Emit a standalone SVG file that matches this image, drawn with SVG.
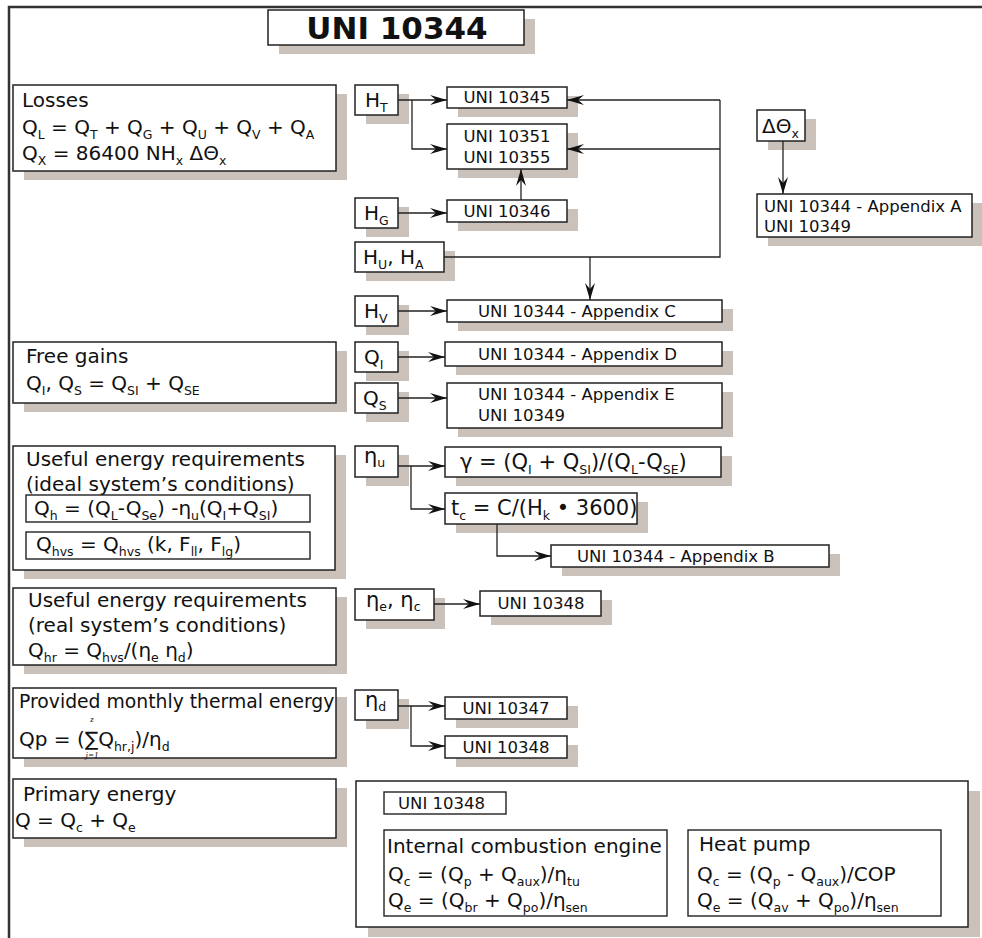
<svg xmlns="http://www.w3.org/2000/svg" width="982" height="938" viewBox="0 0 982 938">
<style>
text{font-family:"DejaVu Sans","Liberation Sans",sans-serif;fill:#111}
.h{font-size:20px}
.h21{font-size:21px}
.l{font-size:16.5px}
.s{font-size:12.5px}
.mid{text-anchor:middle}
.box{fill:#fff;stroke:#222;stroke-width:1.5}
.ib{fill:none;stroke:#222;stroke-width:1.4}
.sh{fill:#cbc1bb}
.c{fill:none;stroke:#222;stroke-width:1.3}
.frame{fill:none;stroke:#333;stroke-width:2.5}
.lim{font-family:"Liberation Serif",serif;font-style:italic;font-size:9px;text-anchor:middle}
</style>
<defs>
<marker id="ar" markerUnits="userSpaceOnUse" viewBox="-18 -6 19 12" refX="0" refY="0" markerWidth="19" markerHeight="12" orient="auto">
<path d="M0,0 L-17,-5 L-11,0 L-17,5 Z" fill="#111"/>
</marker>
</defs>
<rect width="982" height="938" fill="#fff"/>
<path class="frame" d="M9,938 V7 H982"/>

<g id="title">
<rect class="sh" x="279" y="19" width="256" height="35"/>
<rect class="box" x="268" y="10" width="256" height="35"/>
<text x="397" y="39" class="mid" font-size="31" font-weight="bold">UNI 10344</text>
</g>

<g id="losses">
<rect class="sh" x="24" y="94" width="323" height="86"/>
<rect class="box" x="13" y="85" width="323" height="86"/>
<text class="h" x="22" y="107">Losses</text>
<text class="h" x="22" y="134">Q<tspan class="s" dy="5">L</tspan><tspan dy="-5"> = Q</tspan><tspan class="s" dy="5">T</tspan><tspan dy="-5"> + Q</tspan><tspan class="s" dy="5">G</tspan><tspan dy="-5"> + Q</tspan><tspan class="s" dy="5">U</tspan><tspan dy="-5"> + Q</tspan><tspan class="s" dy="5">V</tspan><tspan dy="-5"> + Q</tspan><tspan class="s" dy="5">A</tspan></text>
<text class="h" x="22" y="160">Q<tspan class="s" dy="5">X</tspan><tspan dy="-5"> = 86400 NH</tspan><tspan class="s" dy="5">x</tspan><tspan dy="-5"> ΔΘ</tspan><tspan class="s" dy="5">x</tspan></text>
</g>

<g id="freegains">
<rect class="sh" x="24" y="351" width="323" height="61"/>
<rect class="box" x="13" y="342" width="323" height="61"/>
<text class="h" x="26" y="363">Free gains</text>
<text class="h" x="26" y="390">Q<tspan class="s" dy="5">I</tspan><tspan dy="-5">, Q</tspan><tspan class="s" dy="5">S</tspan><tspan dy="-5"> = Q</tspan><tspan class="s" dy="5">SI</tspan><tspan dy="-5"> + Q</tspan><tspan class="s" dy="5">SE</tspan></text>
</g>

<g id="useful-ideal">
<rect class="sh" x="24" y="455" width="322" height="124"/>
<rect class="box" x="13" y="446" width="322" height="124"/>
<text class="h" x="26" y="466">Useful energy requirements</text>
<text class="h" x="26" y="491">(ideal system’s conditions)</text>
<rect class="ib" x="26" y="495" width="284" height="27"/>
<text class="h" x="34" y="515">Q<tspan class="s" dy="5">h</tspan><tspan dy="-5"> = (Q</tspan><tspan class="s" dy="5">L</tspan><tspan dy="-5">-Q</tspan><tspan class="s" dy="5">Se</tspan><tspan dy="-5">) -η</tspan><tspan class="s" dy="5">u</tspan><tspan dy="-5">(Q</tspan><tspan class="s" dy="5">I</tspan><tspan dy="-5">+Q</tspan><tspan class="s" dy="5">SI</tspan><tspan dy="-5">)</tspan></text>
<rect class="ib" x="26" y="532" width="284" height="27"/>
<text class="h" x="36" y="551">Q<tspan class="s" dy="5">hvs</tspan><tspan dy="-5"> = Q</tspan><tspan class="s" dy="5">hvs</tspan><tspan dy="-5"> (k, F</tspan><tspan class="s" dy="5">ll</tspan><tspan dy="-5">, F</tspan><tspan class="s" dy="5">lg</tspan><tspan dy="-5">)</tspan></text>
</g>

<g id="useful-real">
<rect class="sh" x="24" y="597" width="323" height="77"/>
<rect class="box" x="13" y="588" width="323" height="77"/>
<text class="h" x="28" y="607">Useful energy requirements</text>
<text class="h" x="28" y="632">(real system’s conditions)</text>
<text class="h" x="28" y="657">Q<tspan class="s" dy="5">hr</tspan><tspan dy="-5"> = Q</tspan><tspan class="s" dy="5">hvs</tspan><tspan dy="-5">/(η</tspan><tspan class="s" dy="5">e</tspan><tspan dy="-5"> η</tspan><tspan class="s" dy="5">d</tspan><tspan dy="-5">)</tspan></text>
</g>

<g id="provided">
<rect class="sh" x="24" y="697" width="323" height="70"/>
<rect class="box" x="13" y="688" width="323" height="70"/>
<text x="19" y="708" font-size="18.8">Provided monthly thermal energy</text>
<text class="h" x="19" y="746">Qp = (∑Q<tspan class="s" dy="5">hr,j</tspan><tspan dy="-5">)/η</tspan><tspan class="s" dy="5">d</tspan></text>
<text class="lim" x="92" y="722">z</text>
<text class="lim" x="92" y="758">j=1</text>
</g>

<g id="primary">
<rect class="sh" x="24" y="788" width="323" height="59"/>
<rect class="box" x="13" y="779" width="323" height="59"/>
<text class="h" x="23" y="801">Primary energy</text>
<text class="h" x="15" y="827">Q = Q<tspan class="s" dy="5">c</tspan><tspan dy="-5"> + Q</tspan><tspan class="s" dy="5">e</tspan></text>
</g>

<g id="HT">
<rect class="sh" x="366" y="94" width="43" height="30"/>
<rect class="box" x="355" y="85" width="43" height="30"/>
<text class="h" x="365" y="107">H<tspan class="s" dy="5">T</tspan></text>
</g>
<g id="uni10345">
<rect class="sh" x="458" y="96" width="120" height="21"/>
<rect class="box" x="447" y="87" width="120" height="21"/>
<text class="l mid" x="507" y="103">UNI 10345</text>
</g>
<g id="uni10351">
<rect class="sh" x="458" y="133" width="120" height="45"/>
<rect class="box" x="447" y="124" width="120" height="45"/>
<text class="l mid" x="507" y="142">UNI 10351</text>
<text class="l mid" x="507" y="163">UNI 10355</text>
</g>
<g id="dtheta">
<rect class="sh" x="768" y="119" width="48" height="31"/>
<rect class="box" x="757" y="110" width="48" height="31"/>
<text class="h" x="762" y="133">ΔΘ<tspan class="s" dy="5">x</tspan></text>
</g>
<g id="appA">
<rect class="sh" x="768" y="203" width="215" height="43"/>
<rect class="box" x="757" y="194" width="215" height="43"/>
<text class="l" x="764" y="212">UNI 10344 - Appendix A</text>
<text class="l" x="764" y="232">UNI 10349</text>
</g>
<g id="HG">
<rect class="sh" x="366" y="207" width="43" height="30"/>
<rect class="box" x="355" y="198" width="43" height="30"/>
<text class="h" x="364" y="220">H<tspan class="s" dy="5">G</tspan></text>
</g>
<g id="uni10346">
<rect class="sh" x="458" y="209" width="120" height="22"/>
<rect class="box" x="447" y="200" width="120" height="22"/>
<text class="l mid" x="507" y="217">UNI 10346</text>
</g>
<g id="HUA">
<rect class="sh" x="366" y="251" width="89" height="30"/>
<rect class="box" x="355" y="242" width="89" height="30"/>
<text class="h" x="363" y="264">H<tspan class="s" dy="5">U</tspan><tspan dy="-5">, H</tspan><tspan class="s" dy="5">A</tspan></text>
</g>
<g id="HV">
<rect class="sh" x="366" y="305" width="43" height="30"/>
<rect class="box" x="355" y="296" width="43" height="30"/>
<text class="h" x="364" y="318">H<tspan class="s" dy="5">V</tspan></text>
</g>
<g id="appC">
<rect class="sh" x="458" y="309" width="275" height="22"/>
<rect class="box" x="447" y="300" width="275" height="22"/>
<text class="l" x="478" y="317">UNI 10344 - Appendix C</text>
</g>
<g id="QI">
<rect class="sh" x="366" y="351" width="43" height="30"/>
<rect class="box" x="355" y="342" width="43" height="30"/>
<text class="h" x="364" y="364">Q<tspan class="s" dy="5">I</tspan></text>
</g>
<g id="appD">
<rect class="sh" x="456" y="351" width="277" height="24"/>
<rect class="box" x="445" y="342" width="277" height="24"/>
<text class="l" x="478" y="360">UNI 10344 - Appendix D</text>
</g>
<g id="QS">
<rect class="sh" x="366" y="392" width="43" height="30"/>
<rect class="box" x="355" y="383" width="43" height="30"/>
<text class="h" x="363" y="405">Q<tspan class="s" dy="5">S</tspan></text>
</g>
<g id="appE">
<rect class="sh" x="458" y="392" width="275" height="45"/>
<rect class="box" x="447" y="383" width="275" height="45"/>
<text class="l" x="478" y="400">UNI 10344 - Appendix E</text>
<text class="l" x="478" y="421">UNI 10349</text>
</g>
<g id="etau">
<rect class="sh" x="366" y="455" width="43" height="31"/>
<rect class="box" x="355" y="446" width="43" height="31"/>
<text class="h21" x="364" y="463">η<tspan class="s" dy="4">u</tspan></text>
</g>
<g id="gamma">
<rect class="sh" x="456" y="456" width="276" height="30"/>
<rect class="box" x="445" y="447" width="276" height="30"/>
<text class="h21" x="460" y="469">γ = (Q<tspan class="s" dy="5">I</tspan><tspan dy="-5"> + Q</tspan><tspan class="s" dy="5">SI</tspan><tspan dy="-5">)/(Q</tspan><tspan class="s" dy="5">L</tspan><tspan dy="-5">-Q</tspan><tspan class="s" dy="5">SE</tspan><tspan dy="-5">)</tspan></text>
</g>
<g id="tc">
<rect class="sh" x="456" y="502" width="192" height="31"/>
<rect class="box" x="445" y="493" width="192" height="31"/>
<text class="h21" x="451" y="515">t<tspan class="s" dy="5">c</tspan><tspan dy="-5"> = C/(H</tspan><tspan class="s" dy="5">k</tspan><tspan dy="-5"> • 3600)</tspan></text>
</g>
<g id="appB">
<rect class="sh" x="562" y="554" width="278" height="22"/>
<rect class="box" x="551" y="545" width="278" height="22"/>
<text class="l" x="577" y="562">UNI 10344 - Appendix B</text>
</g>
<g id="etaec">
<rect class="sh" x="366" y="598" width="79" height="31"/>
<rect class="box" x="355" y="589" width="79" height="31"/>
<text class="h21" x="366" y="607">η<tspan class="s" dy="4">e</tspan><tspan dy="-4">, η</tspan><tspan class="s" dy="4">c</tspan></text>
</g>
<g id="uni10348a">
<rect class="sh" x="491" y="600" width="121" height="25"/>
<rect class="box" x="480" y="591" width="121" height="25"/>
<text class="l mid" x="541" y="609">UNI 10348</text>
</g>
<g id="etad">
<rect class="sh" x="366" y="699" width="43" height="30"/>
<rect class="box" x="355" y="690" width="43" height="30"/>
<text class="h21" x="365" y="707">η<tspan class="s" dy="4">d</tspan></text>
</g>
<g id="uni10347">
<rect class="sh" x="456" y="706" width="122" height="22"/>
<rect class="box" x="445" y="697" width="122" height="22"/>
<text class="l mid" x="506" y="714">UNI 10347</text>
</g>
<g id="uni10348b">
<rect class="sh" x="456" y="745" width="122" height="22"/>
<rect class="box" x="445" y="736" width="122" height="22"/>
<text class="l mid" x="506" y="753">UNI 10348</text>
</g>

<g id="uni10348-methods">
<rect class="sh" x="368" y="791" width="612" height="146"/>
<rect class="box" x="356" y="781" width="612" height="146"/>
<rect class="ib" x="384" y="792" width="122" height="22"/>
<text class="l" x="398" y="809">UNI 10348</text>
<rect class="ib" x="384" y="830" width="283" height="86"/>
<text class="h" x="387" y="853">Internal combustion engine</text>
<text class="h" x="388" y="881">Q<tspan class="s" dy="5">c</tspan><tspan dy="-5"> = (Q</tspan><tspan class="s" dy="5">p</tspan><tspan dy="-5"> + Q</tspan><tspan class="s" dy="5">aux</tspan><tspan dy="-5">)/η</tspan><tspan class="s" dy="5">tu</tspan></text>
<text class="h" x="388" y="907">Q<tspan class="s" dy="5">e</tspan><tspan dy="-5"> = (Q</tspan><tspan class="s" dy="5">br</tspan><tspan dy="-5"> + Q</tspan><tspan class="s" dy="5">po</tspan><tspan dy="-5">)/η</tspan><tspan class="s" dy="5">sen</tspan></text>
<rect class="ib" x="688" y="830" width="253" height="86"/>
<text class="h" x="699" y="851">Heat pump</text>
<text class="h" x="697" y="881">Q<tspan class="s" dy="5">c</tspan><tspan dy="-5"> = (Q</tspan><tspan class="s" dy="5">p</tspan><tspan dy="-5"> - Q</tspan><tspan class="s" dy="5">aux</tspan><tspan dy="-5">)/COP</tspan></text>
<text class="h" x="697" y="907">Q<tspan class="s" dy="5">e</tspan><tspan dy="-5"> = (Q</tspan><tspan class="s" dy="5">av</tspan><tspan dy="-5"> + Q</tspan><tspan class="s" dy="5">po</tspan><tspan dy="-5">)/η</tspan><tspan class="s" dy="5">sen</tspan></text>
</g>

<g id="connectors">
<path class="c" d="M398,100 H447" marker-end="url(#ar)"/>
<path class="c" d="M412,100 V149 H447" marker-end="url(#ar)"/>
<path class="c" d="M720,100 H567" marker-end="url(#ar)"/>
<path class="c" d="M720,149 H567" marker-end="url(#ar)"/>
<path class="c" d="M444,257 H720 V100"/>
<path class="c" d="M590,257 V300" marker-end="url(#ar)"/>
<path class="c" d="M783,141 V194" marker-end="url(#ar)"/>
<path class="c" d="M398,213 H447" marker-end="url(#ar)"/>
<path class="c" d="M521,200 V169" marker-end="url(#ar)"/>
<path class="c" d="M398,311 H447" marker-end="url(#ar)"/>
<path class="c" d="M398,357 H445" marker-end="url(#ar)"/>
<path class="c" d="M398,398 H447" marker-end="url(#ar)"/>
<path class="c" d="M398,466 H445" marker-end="url(#ar)"/>
<path class="c" d="M411,466 V509 H445" marker-end="url(#ar)"/>
<path class="c" d="M497,524 V556 H551" marker-end="url(#ar)"/>
<path class="c" d="M434,604 H480" marker-end="url(#ar)"/>
<path class="c" d="M398,706 H445" marker-end="url(#ar)"/>
<path class="c" d="M411,706 V746 H445" marker-end="url(#ar)"/>
</g>
</svg>
